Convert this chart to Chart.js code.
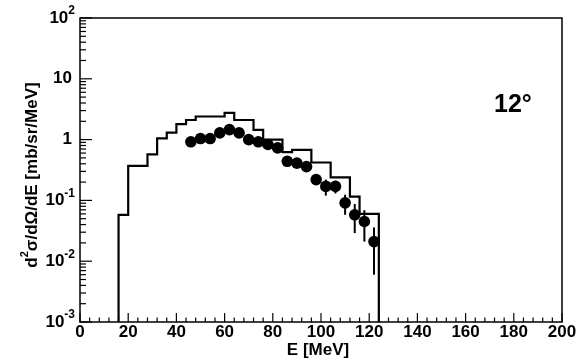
<!DOCTYPE html>
<html><head><meta charset="utf-8">
<script src="https://cdn.jsdelivr.net/npm/chart.js@4/dist/chart.umd.min.js"></script>
<style>html,body{margin:0;padding:0;background:#fff}canvas{display:block}</style>
</head><body>
<canvas id="c" width="577" height="361"></canvas>
<script>
// ---- data ----
const binEdges = [16,20,24,28,32,36,40,44,48,52,56,60,64,68,72,76,80,84,88,92,96,100,104,108,112,116,120,124];
const histValues = [0.058,0.37,0.37,0.57,1.05,1.3,1.8,2.1,2.4,2.4,2.4,2.75,2.1,2.1,1.45,1.0,1.0,0.62,0.68,0.68,0.42,0.42,0.24,0.24,0.115,0.06,0.06];
const dataEnergies = [46,50,54,58,62,66,70,74,78,82,86,90,94,98,102,106,110,114,118,122];
const dataValues = [0.92,1.04,1.04,1.29,1.46,1.29,1.0,0.92,0.83,0.73,0.44,0.41,0.36,0.22,0.17,0.17,0.091,0.058,0.045,0.021];
const dataErrors = [0.09,0.1,0.1,0.12,0.13,0.12,0.1,0.09,0.08,0.08,0.05,0.05,0.05,0.04,0.05,0.04,0.033,0.029,0.024,0.015];
const xTickValues = [0,20,40,60,80,100,120,140,160,180,200];
const xTickLabels = ['0','20','40','60','80','100','120','140','160','180','200'];
const yTickValues = [1e-3,1e-2,1e-1,1,10,100];
const yTickLabels = ['10^-3','10^-2','10^-1','1','10','10^2'];
const xTitle = 'E [MeV]';
const angleLabel = '12°';

// histogram outline points (stepped: horizontal first, then vertical)
const histPoints = [{x: binEdges[0], y: 1e-3}, {x: binEdges[0], y: histValues[0]}];
for (let i = 1; i < histValues.length; i++) histPoints.push({x: binEdges[i], y: histValues[i]});
histPoints.push({x: binEdges[binEdges.length-1], y: histValues[histValues.length-1]});
histPoints.push({x: binEdges[binEdges.length-1], y: 1e-3});
const dataPoints = dataEnergies.map((e,i)=>({x:e, y:dataValues[i]}));

const FONT = '"Liberation Sans", Arial, Helvetica, sans-serif';

const axesPlugin = {
  id: 'rootAxes',
  afterDatasetsDraw(chart) {
    const ctx = chart.ctx, xs = chart.scales.x, ys = chart.scales.y, a = chart.chartArea;
    ctx.save();
    ctx.strokeStyle = '#000'; ctx.fillStyle = '#000';
    // error bars
    ctx.lineWidth = 2;
    dataEnergies.forEach((e,i)=>{
      const lo = Math.max(dataValues[i]-dataErrors[i], 1e-3);
      const hi = dataValues[i]+dataErrors[i];
      const px = xs.getPixelForValue(e);
      ctx.beginPath();
      ctx.moveTo(px, ys.getPixelForValue(lo));
      ctx.lineTo(px, ys.getPixelForValue(hi));
      ctx.stroke();
    });
    // frame
    ctx.lineWidth = 1.5;
    ctx.strokeRect(a.left, a.top, a.right - a.left, a.bottom - a.top);
    // x ticks
    ctx.lineWidth = 1.2;
    for (let v = 0; v <= 200; v += 4) {
      const px = xs.getPixelForValue(v);
      const len = (v % 20 === 0) ? 9 : 4.5;
      ctx.beginPath(); ctx.moveTo(px, a.bottom); ctx.lineTo(px, a.bottom - len); ctx.stroke();
    }
    // y ticks (log)
    for (let e = -3; e <= 2; e++) {
      for (let k = 1; k <= 9; k++) {
        const v = k * Math.pow(10, e);
        if (v > 100.0001) break;
        const py = ys.getPixelForValue(v);
        const len = (k === 1) ? 12 : 6;
        ctx.beginPath(); ctx.moveTo(a.left, py); ctx.lineTo(a.left + len, py); ctx.stroke();
      }
    }
    // x labels
    ctx.font = 'bold 17px ' + FONT;
    ctx.textAlign = 'center'; ctx.textBaseline = 'top';
    xTickValues.forEach((v,i)=>{
      ctx.fillText(xTickLabels[i], xs.getPixelForValue(v), a.bottom + 2);
    });
    // x title
    ctx.fillText(xTitle, (a.left + a.right)/2 - 3, a.bottom + 20);
    // y labels
    ctx.textBaseline = 'middle';
    yTickValues.forEach((v,i)=>{
      const py = ys.getPixelForValue(v);
      const parts = yTickLabels[i].split('^');
      const right = a.left - 5;
      if (parts.length === 1) {
        ctx.font = 'bold 17px ' + FONT; ctx.textAlign = 'right';
        ctx.fillText(parts[0], right - 3, py);
      } else {
        ctx.font = 'bold 12px ' + FONT; ctx.textAlign = 'right';
        const sw = ctx.measureText(parts[1]).width;
        ctx.fillText(parts[1], right, py - 7);
        ctx.font = 'bold 17px ' + FONT;
        ctx.fillText(parts[0], right - sw, py);
      }
    });
    // y title (rotated)
    ctx.save();
    ctx.translate(32, 175);
    ctx.rotate(-Math.PI/2);
    ctx.textAlign = 'left'; ctx.textBaseline = 'middle';
    const p1 = 'd', p2 = '2', p3 = 'σ/dΩ/dE [mb/sr/MeV]';
    ctx.font = 'bold 17px ' + FONT; const w1 = ctx.measureText(p1).width, w3 = ctx.measureText(p3).width;
    ctx.font = 'bold 11px ' + FONT; const w2 = ctx.measureText(p2).width;
    let x0 = -(w1 + w2 + w3)/2;
    ctx.font = 'bold 17px ' + FONT; ctx.fillText(p1, x0, 0); x0 += w1;
    ctx.font = 'bold 11px ' + FONT; ctx.fillText(p2, x0, -7); x0 += w2;
    ctx.font = 'bold 17px ' + FONT; ctx.fillText(p3, x0, 0);
    ctx.restore();
    // angle label
    ctx.font = 'bold 25px ' + FONT;
    ctx.textAlign = 'left'; ctx.textBaseline = 'alphabetic';
    ctx.fillText(angleLabel, 494, 112);
    ctx.restore();
  }
};

new Chart(document.getElementById('c'), {
  type: 'scatter',
  data: {
    datasets: [
      { label: 'data', data: dataPoints, order: 0, pointRadius: 5.8, pointStyle: 'circle',
        backgroundColor: '#000', borderColor: '#000', borderWidth: 0, showLine: false },
      { label: 'model', data: histPoints, order: 1, showLine: true, stepped: 'before',
        borderColor: '#000', borderWidth: 2.2, pointRadius: 0, fill: false }
    ]
  },
  options: {
    responsive: false, animation: false, devicePixelRatio: 1,
    layout: { padding: { left: 80, right: 15, top: 18, bottom: 39 } },
    plugins: { legend: { display: false }, tooltip: { enabled: false } },
    scales: {
      x: { type: 'linear', min: 0, max: 200, display: false },
      y: { type: 'logarithmic', min: 1e-3, max: 100, display: false }
    }
  },
  plugins: [axesPlugin]
});
</script>
</body></html>
